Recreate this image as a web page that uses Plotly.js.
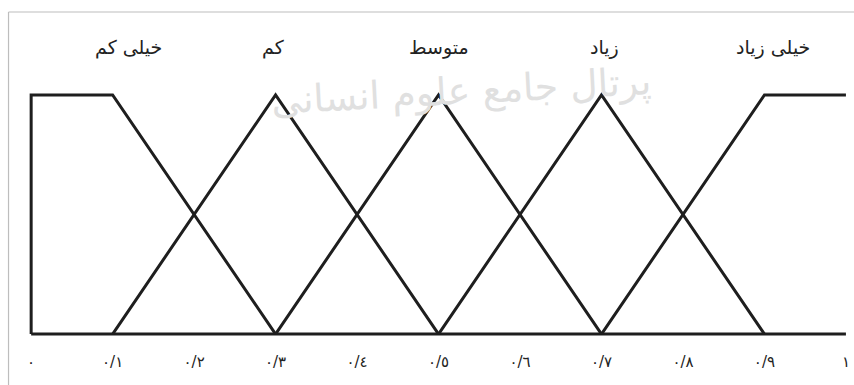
<!DOCTYPE html>
<html>
<head>
<meta charset="utf-8">
<script src="https://cdn.plot.ly/plotly-3.0.1.min.js"></script>
<style>html,body{margin:0;padding:0;background:#fff;}#chart{width:854px;height:385px;}</style>
</head>
<body>
<div id="chart"></div>
<script>
// Membership function break points (x) and degrees (y)
var categories = ["خیلی کم", "کم", "متوسط", "زیاد", "خیلی زیاد"];
var veryLowX = [0, 0, 0.1, 0.3];
var veryLowY = [0, 1, 1, 0];
var lowX = [0.1, 0.3, 0.5];
var lowY = [0, 1, 0];
var mediumX = [0.3, 0.5, 0.7];
var mediumY = [0, 1, 0];
var highX = [0.5, 0.7, 0.9];
var highY = [0, 1, 0];
var veryHighX = [0.7, 0.9, 1];
var veryHighY = [0, 1, 1];
var baseX = [0, 1];
var baseY = [0, 0];
var tickVals = [0, 0.1, 0.2, 0.3, 0.4, 0.5, 0.6, 0.7, 0.8, 0.9, 1];
var tickText = ["٠", "٠/١", "٠/٢", "٠/٣", "٠/٤", "٠/٥", "٠/٦", "٠/٧", "٠/٨", "٠/٩", "١"];
var labelX = [0.12, 0.297, 0.5, 0.704, 0.91];

var lineStyle = {color: "#1e1e1e", width: 3};
function tr(x, y) {
  return {x: x, y: y, type: "scatter", mode: "lines", line: lineStyle, hoverinfo: "skip", showlegend: false};
}
var data = [tr(baseX, baseY), tr(veryLowX, veryLowY), tr(lowX, lowY), tr(mediumX, mediumY), tr(highX, highY), tr(veryHighX, veryHighY)];

var annotations = [{x: 0.53, y: 1.1, xref: "paper", yref: "paper", text: "پرتال جامع علوم انسانی",
  showarrow: false, textangle: -3, font: {family: "DejaVu Sans, sans-serif", size: 38, color: "#e0e0e0"}}];
categories.forEach(function (c, i) {
  annotations.push({x: labelX[i], y: 1.185, xref: "x", yref: "paper", text: c, showarrow: false,
    font: {family: "DejaVu Sans, sans-serif", size: 19, color: "#222"}});
});

var layout = {
  width: 854, height: 385,
  margin: {l: 23.4, r: 4, t: 83, b: 39},
  paper_bgcolor: "#fff", plot_bgcolor: "rgba(0,0,0,0)",
  xaxis: {range: [-0.01, 1.005], tickvals: tickVals, ticktext: tickText, showgrid: false, zeroline: false,
    showline: false, ticks: "", ticklabelstandoff: 5,
    tickfont: {family: "DejaVu Sans, sans-serif", size: 15, color: "#222"}},
  yaxis: {range: [-0.05, 1.05], visible: false, showgrid: false, zeroline: false},
  annotations: annotations,
  shapes: [
    {type: "line", xref: "paper", yref: "paper", x0: -0.0175, x1: 1.1, y0: 1.27, y1: 1.27, line: {color: "#bdbdbd", width: 1.2}, layer: "below"},
    {type: "line", xref: "paper", yref: "paper", x0: -0.0175, x1: -0.0175, y0: 1.27, y1: -0.2, line: {color: "#bdbdbd", width: 1.2}, layer: "below"}
  ]
};
Plotly.newPlot("chart", data, layout, {displayModeBar: false, staticPlot: true});
</script>
</body>
</html>
